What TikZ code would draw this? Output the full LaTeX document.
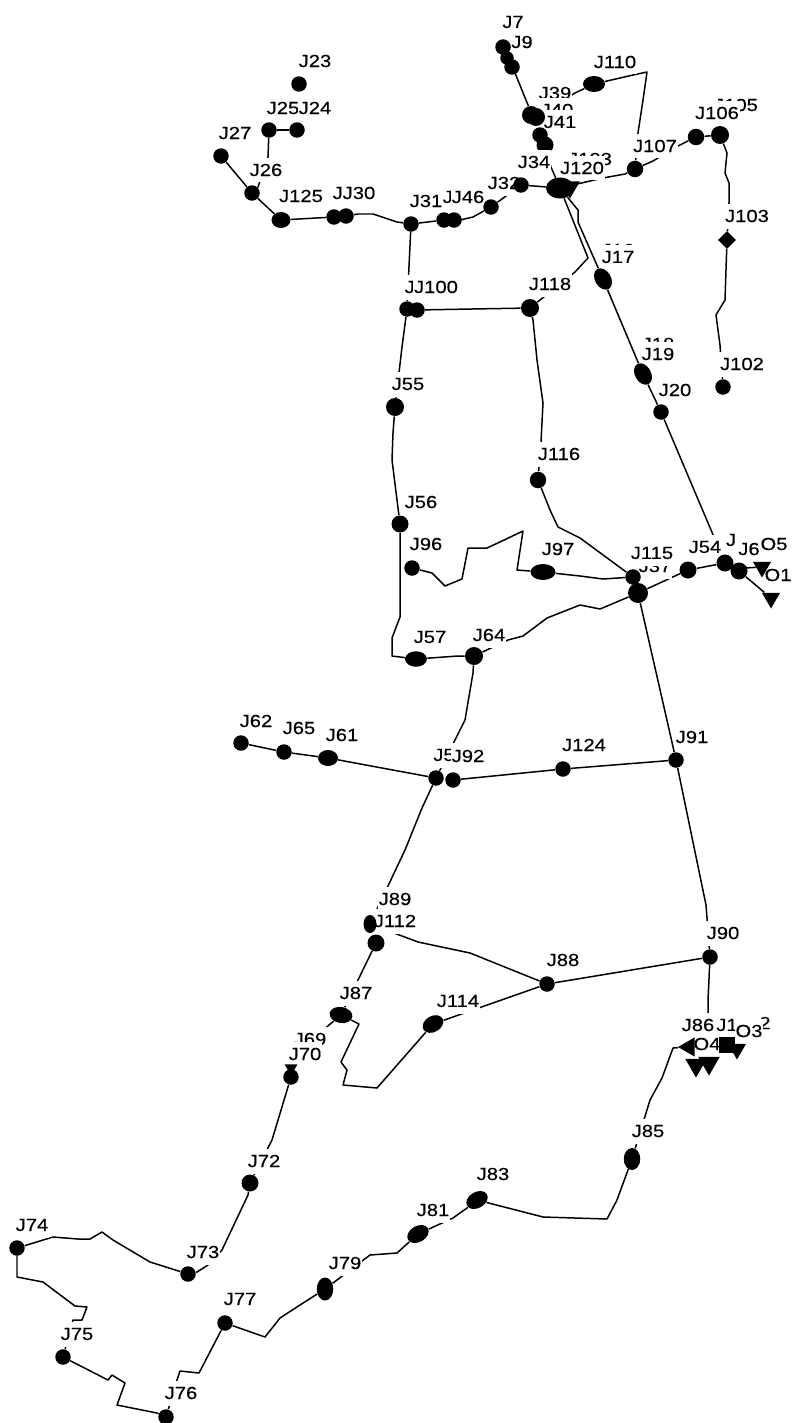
\documentclass[tikz,border=0pt]{standalone}
\usepackage{fontspec}
\setmainfont{Liberation Sans}[FakeStretch=1.15, FakeBold=0.3]
\usetikzlibrary{shapes.geometric, backgrounds}

\begin{document}
\begin{tikzpicture}[
    x=0.02cm, y=-0.02cm,
    junc/.style={circle, fill=black, inner sep=0pt, minimum size=0.31cm},
    jwide/.style={ellipse, fill=black, inner sep=0pt, minimum width=0.5cm, minimum height=0.32cm},
    tri/.style={regular polygon, regular polygon sides=3, shape border rotate=180, fill=black, inner sep=0pt, minimum size=0.42cm},
    lbl/.style={fill=white, inner xsep=0.5pt, inner ysep=0pt, minimum height=0.5cm, font=\fontsize{10}{10}\selectfont},
    pipe/.style={line width=0.85pt, line join=round}
]
\useasboundingbox (0,0) rectangle (792,1423);

% Top left branch
\node[lbl] (l23) at (315,61) {J23};
\node[junc] (j23) at (299,84) {};
\node[lbl] (l25) at (283,108) {J25};
\node[lbl] (l24) at (315,108) {J24};
\node[junc] (j25) at (269,130) {};
\node[junc] (j24) at (297,130) {};
\node[lbl] (l27) at (235,133) {J27};
\node[junc] (j27) at (221,156) {};
\node[lbl] (l26) at (266,170) {J26};
\node[junc] (j26) at (252,193) {};
\node[lbl] (l125) at (301,196) {J125};
\node[jwide, minimum width=0.38cm] (j125) at (281,220) {};
\node[lbl] (l29) at (349,193) {J29};
\node[lbl] (l30) at (359,193) {J30};
\node[junc] (j29) at (334,217) {};
\node[junc] (j30) at (346,216) {};
\node[lbl] (l31) at (426,201) {J31};
\node[junc] (j31) at (411,224) {};
\node[lbl] (l45) at (459,197) {J45};
\node[lbl] (l46) at (468,197) {J46};
\node[junc] (j45) at (444,220) {};
\node[junc] (j46) at (454,220) {};
\node[lbl] (l32) at (504,183) {J32};
\node[junc] (j32) at (491,207) {};
\node[junc] (j33) at (521,185) {};

% Top centre cluster
\node[lbl] (l7) at (513,22) {J7};
\node[lbl] (l9) at (522,42) {J9};
\node[junc] (j7) at (503,47) {};
\node[junc, minimum size=0.27cm] (j8) at (507,58) {};
\node[junc] (j9) at (512,67) {};
\node[lbl] (l39) at (555,93) {J39};
\node[lbl] (l40) at (557,110) {J40};
\node[lbl] (l41) at (560,122) {J41};
\node[junc, minimum size=0.36cm] (j39) at (531,115) {};
\node[junc, minimum size=0.36cm] (j40) at (536,117) {};
\node[junc] (j41) at (540,135) {};
\node[junc, minimum size=0.34cm] (j42) at (545,145) {};
\node[lbl] (l110) at (615,62) {J110};
\node[jwide, minimum width=0.44cm, minimum height=0.32cm] (j110) at (594,84) {};
\node[lbl] (l34) at (534,162) {J34};
\node[lbl] (l123) at (590,159) {J123};
\node[lbl] (l120) at (582,168) {J120};
\node[jwide, minimum width=0.56cm, minimum height=0.42cm] (j120) at (560,188) {};
\node[tri, minimum size=0.46cm] (j121) at (570,187) {};

% Top right branch
\node[lbl] (l107) at (655,146) {J107};
\node[junc, minimum size=0.33cm] (j107) at (635,169) {};
\node[lbl] (l105) at (736,105) {J105};
\node[lbl] (l106) at (717,113) {J106};
\node[junc, minimum size=0.33cm] (j106) at (696,137) {};
\node[junc, minimum size=0.36cm] (j105) at (720,135) {};
\node[lbl] (l103) at (747,216) {J103};
\node[diamond, fill=black, inner sep=0pt, minimum size=0.36cm] (j103) at (727,240) {};
\node[lbl] (l102) at (742,364) {J102};
\node[junc] (j102) at (723,387) {};

% Main line down to the middle
\node[lbl] (l16) at (618,250) {J16};
\node[lbl] (l17) at (618,257) {J17};
\node[jwide, rotate=-60, minimum width=0.46cm, minimum height=0.32cm] (j17) at (603,279) {};
\node[lbl] (l118) at (550,284) {J118};
\node[junc, minimum size=0.36cm] (j118) at (530,308) {};
\node[lbl] (l99) at (421,287) {J99};
\node[lbl] (l100) at (436,287) {J100};
\node[junc] (j99) at (407,309) {};
\node[junc] (j100) at (417,310) {};
\node[lbl] (l18) at (658,344) {J18};
\node[lbl] (l19) at (658,354) {J19};
\node[jwide, rotate=-60, minimum width=0.46cm, minimum height=0.32cm] (j19) at (643,374) {};
\node[lbl] (l20) at (675,390) {J20};
\node[junc] (j20) at (661,412) {};
\node[lbl] (l55) at (408,384) {J55};
\node[junc, minimum size=0.36cm] (j55) at (395,407) {};
\node[lbl] (l116) at (559,454) {J116};
\node[junc, minimum size=0.33cm] (j116) at (538,480) {};
\node[lbl] (l56) at (421,502) {J56};
\node[junc, minimum size=0.34cm] (j56) at (400,524) {};

% Junctions around J115
\node[lbl] (l96) at (426,544) {J96};
\node[junc] (j96) at (412,568) {};
\node[lbl] (l97) at (558,549) {J97};
\node[jwide, minimum width=0.5cm] (j97) at (543,572) {};
\node[lbl] (l37) at (655,566) {J37};
\node[lbl] (l115) at (652,553) {J115};
\node[junc] (j115) at (633,577) {};
\node[junc, minimum size=0.4cm] (j37) at (638,593) {};
\node[lbl] (l54) at (705,547) {J54};
\node[junc, minimum size=0.34cm] (j54) at (688,570) {};
\node[lbl] (l53) at (731,540) {J};
\node[lbl] (l6) at (749,549) {J6};
\node[junc, minimum size=0.34cm] (j53) at (725,563) {};
\node[junc, minimum size=0.34cm] (j6) at (739,571) {};
\node[lbl] (o5) at (774,544) {O5};
\node[lbl] (o1) at (778,575) {O1};
\node[tri] (t5) at (762,567) {};
\node[tri] (t1) at (771,598) {};

% Middle
\node[lbl] (l57) at (430,637) {J57};
\node[jwide, minimum width=0.44cm, minimum height=0.31cm] (j57) at (416,659) {};
\node[lbl] (l64) at (489,635) {J64};
\node[junc, minimum size=0.36cm] (j64) at (474,656) {};
\node[lbl] (l62) at (256,721) {J62};
\node[junc] (j62) at (241,743) {};
\node[lbl] (l65) at (299,728) {J65};
\node[junc] (j65) at (284,752) {};
\node[lbl] (l61) at (342,735) {J61};
\node[jwide, minimum width=0.4cm, minimum height=0.32cm] (j61) at (328,758) {};
\node[lbl] (l5) at (444,755) {J5};
\node[lbl] (l92) at (468,756) {J92};
\node[junc] (j5) at (436,778) {};
\node[junc] (j92) at (453,780) {};
\node[lbl] (l124) at (584,745) {J124};
\node[junc] (j124) at (563,769) {};
\node[lbl] (l91) at (692,737) {J91};
\node[junc] (j91) at (676,760) {};

% Lower middle
\node[lbl] (l89) at (395,899) {J89};
\node[lbl] (l112) at (395,921) {J112};
\node[jwide, rotate=90, minimum width=0.36cm, minimum height=0.26cm] (j89) at (370,924) {};
\node[junc, minimum size=0.34cm] (j112) at (376,943) {};
\node[lbl] (l88) at (563,960) {J88};
\node[junc] (j88) at (547,984) {};
\node[lbl] (l90) at (723,933) {J90};
\node[junc] (j90) at (710,957) {};
\node[lbl] (l87) at (356,993) {J87};
\node[jwide, rotate=-10, minimum width=0.46cm, minimum height=0.32cm] (j87) at (341,1015) {};
\node[lbl] (l114) at (458,1001) {J114};
\node[jwide, rotate=30, minimum width=0.44cm] (j114) at (433,1024) {};
\node[lbl] (l69) at (310,1039) {J69};
\node[lbl] (l70) at (305,1054) {J70};
\node[tri, minimum size=0.3cm] (j69) at (291,1068) {};
\node[junc] (j70) at (291,1077) {};

% Outlets at the bottom right
\node[lbl] (l86) at (698,1025) {J86};
\node[lbl] (o2) at (765,1023) {2};
\node[lbl] (l1) at (727,1025) {J1};
\node[lbl] (o3) at (749,1031) {O3};
\node[lbl] (o4) at (707,1044) {O4};
\node[tri, rotate=-90, minimum size=0.44cm] (j86) at (689,1047) {};
\node[tri, minimum size=0.5cm] (t4a) at (696,1065) {};
\node[tri, minimum size=0.5cm] (t4b) at (709,1063) {};
\node[rectangle, fill=black, inner sep=0pt, minimum size=0.32cm] (j3) at (727,1045) {};
\node[tri] (t3) at (737,1049) {};

% Bottom loop
\node[lbl] (l85) at (648,1131) {J85};
\node[jwide, rotate=90, minimum width=0.44cm, minimum height=0.33cm] (j85) at (632,1159) {};
\node[lbl] (l72) at (264,1161) {J72};
\node[junc, minimum size=0.34cm] (j72) at (250,1183) {};
\node[lbl] (l83) at (493,1174) {J83};
\node[jwide, rotate=30, minimum width=0.46cm] (j83) at (477,1200) {};
\node[lbl] (l81) at (433,1210) {J81};
\node[jwide, rotate=30, minimum width=0.46cm] (j81) at (418,1234) {};
\node[lbl] (l74) at (32,1225) {J74};
\node[junc] (j74) at (17,1248) {};
\node[lbl] (l73) at (203,1252) {J73};
\node[junc] (j73) at (188,1274) {};
\node[lbl] (l79) at (345,1263) {J79};
\node[jwide, rotate=90, minimum width=0.46cm, minimum height=0.33cm] (j79) at (325,1289) {};
\node[lbl] (l77) at (240,1299) {J77};
\node[junc] (j77) at (225,1323) {};
\node[lbl] (l75) at (77,1334) {J75};
\node[junc] (j75) at (63,1357) {};
\node[lbl] (l76) at (181,1393) {J76};
\node[junc] (j76) at (166,1417) {};

% Connectors go below the labels
\begin{pgfonlayer}{background}
\draw[pipe] (j25) -- (268,157) -- (258,187) -- (j26);
\draw[pipe] (j25) -- (j24);
\draw[pipe] (j27) -- (j26);
\draw[pipe] (j26) -- (j125);
\draw[pipe] (j125) -- (j29);
\draw[pipe] (j30) -- (358,214) -- (373,214) -- (397,222) -- (j31);
\draw[pipe] (j31) -- (j45);
\draw[pipe] (j46) -- (460,220) -- (473,217) -- (j32);
\draw[pipe] (j32) -- (j33);
\draw[pipe] (j33) -- (j120);
\draw[pipe] (j9) -- (515,73) -- (528,105) -- (j39);
\draw[pipe] (j42) -- (545,153) -- (j120);
\draw[pipe] (j40) -- (575,93) -- (j110);
\draw[pipe] (j110) -- (633,75) -- (647,72) -- (643,100) -- (638,133) -- (j107);
\draw[pipe] (j120) -- (603,178) -- (625,174) -- (j107);
\draw[pipe] (j107) -- (653,161) -- (678,146) -- (j106);
\draw[pipe] (j106) -- (j105);
\draw[pipe] (j105) -- (727,153) -- (725,173) -- (729,183) -- (729,203) -- (j103);
\draw[pipe] (j103) -- (725,300) -- (716,315) -- (720,345) -- (j102);
\draw[pipe] (j120) -- (588,258) -- (575,272) -- (j118);
\draw[pipe] (j120) -- (578,210) -- (578,222) -- (j17);
\draw[pipe] (j17) -- (j19);
\draw[pipe] (j19) -- (j20);
\draw[pipe] (j20) -- (j53);
\draw[pipe] (j31) -- (j99);
\draw[pipe] (j100) -- (472,309) -- (j118);
\draw[pipe] (j118) -- (533,320) -- (537,360) -- (543,403) -- (541,442) -- (j116);
\draw[pipe] (j99) -- (402,347) -- (j55);
\draw[pipe] (j55) -- (393,433) -- (392,460) -- (j56);
\draw[pipe] (j116) -- (550,510) -- (558,527) -- (580,538) -- (j115);
\draw[pipe] (j96) -- (432,573) -- (445,586) -- (462,579) -- (468,548) -- (487,548) -- (502,541) -- (523,531) -- (517,570) -- (j97);
\draw[pipe] (j97) -- (580,576) -- (603,579) -- (j115);
\draw[pipe] (j56) -- (400,617) -- (392,638) -- (392,656) -- (j57);
\draw[pipe] (j57) -- (458,656) -- (j64);
\draw[pipe] (j64) -- (508,640) -- (523,636) -- (547,618) -- (580,605) -- (600,609) -- (j37);
\draw[pipe] (j64) -- (473,673) -- (465,720) -- (j5);
\draw[pipe] (j37) -- (j54);
\draw[pipe] (j54) -- (j53);
\draw[pipe] (j6) -- (745,568) -- (t5);
\draw[pipe] (j6) -- (t1);
\draw[pipe] (j37) -- (j91);
\draw[pipe] (j62) -- (j65);
\draw[pipe] (j65) -- (j61);
\draw[pipe] (j61) -- (j5);
\draw[pipe] (j92) -- (j124);
\draw[pipe] (j124) -- (j91);
\draw[pipe] (j91) -- (706,905) -- (j90);
\draw[pipe] (j5) -- (422,808) -- (405,850) -- (j89);
\draw[pipe] (j112) -- (j87);
\draw[pipe] (j89) -- (418,942) -- (470,953) -- (j88);
\draw[pipe] (j88) -- (j90);
\draw[pipe] (j88) -- (j114);
\draw[pipe] (j90) -- (708,1000) -- (t4b);
\draw[pipe] (j114) -- (377,1088) -- (343,1085) -- (347,1070) -- (341,1062) -- (359,1024) -- (j87);
\draw[pipe] (j87) -- (323,1030) -- (j69);
\draw[pipe] (j70) -- (272,1140) -- (j72);
\draw[pipe] (j72) -- (248,1195) -- (222,1250) -- (208,1265) -- (197,1272) -- (j73);
\draw[pipe] (j73) -- (150,1262) -- (113,1240) -- (102,1232) -- (90,1239) -- (78,1239) -- (53,1237) -- (j74);
\draw[pipe] (j74) -- (17,1277) -- (43,1282) -- (75,1306) -- (87,1307) -- (82,1320) -- (73,1320) -- (j75);
\draw[pipe] (j75) -- (108,1380) -- (112,1375) -- (125,1383) -- (117,1405) -- (157,1413) -- (j76);
\draw[pipe] (j76) -- (177,1380) -- (180,1371) -- (199,1373) -- (j77);
\draw[pipe] (j77) -- (265,1337) -- (280,1318) -- (300,1305) -- (j79);
\draw[pipe] (j79) -- (370,1255) -- (397,1253) -- (j81);
\draw[pipe] (j81) -- (453,1218) -- (467,1208) -- (j83);
\draw[pipe] (j83) -- (543,1217) -- (607,1219) -- (617,1200) -- (j85);
\draw[pipe] (j85) -- (650,1100) -- (662,1078) -- (673,1048) -- (j86);
\end{pgfonlayer}

\end{tikzpicture}
\end{document}
